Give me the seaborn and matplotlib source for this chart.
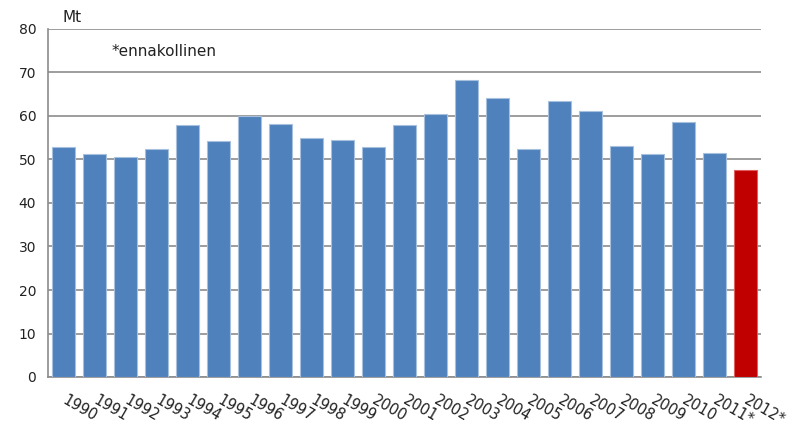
import numpy as np
import pandas as pd
import matplotlib
matplotlib.use("Agg")
import matplotlib.pyplot as plt
import seaborn as sns

# Data
vuodet = [str(y) for y in range(1990, 2011)] + ["2011*", "2012*"]
arvot = [52.8, 51.3, 50.6, 52.4, 57.9, 54.2, 60.0, 58.2, 55.0, 54.5, 52.8,
         57.9, 60.4, 68.2, 64.1, 52.4, 63.4, 61.2, 53.1, 51.2, 58.6, 51.6, 47.5]
tyyppi = ["toteutunut"] * 22 + ["ennakko"]

df = pd.DataFrame({"vuosi": vuodet, "arvo": arvot, "tyyppi": tyyppi})

sns.set_style("white")
plt.rcParams["font.family"] = ["DejaVu Sans"]

fig = plt.figure(figsize=(7.92, 4.28), dpi=100)
ax = fig.add_axes([48 / 792, 1 - 377 / 428, 713 / 792, 348 / 428])

sns.barplot(data=df, x="vuosi", y="arvo", hue="tyyppi",
            palette={"toteutunut": "#4F81BD", "ennakko": "#C00000"},
            saturation=1, width=0.72, dodge=False, legend=False, ax=ax,
            edgecolor="#A7C0DE", linewidth=0.8, zorder=3)
# punaisen pylvään reuna
for p in ax.patches:
    if p.get_facecolor()[0] > 0.6:
        p.set_edgecolor("#E06060")

ax.set_ylim(0, 80)
ax.set_xlim(-0.5, len(vuodet) - 0.5)
ax.set_yticks(range(0, 81, 10))
ax.yaxis.grid(True, color="#8C8C8C", linewidth=1.2, zorder=0)
ax.set_axisbelow(True)

# x-akselin merkit luokkien rajoille
ax.set_xticks(np.arange(len(vuodet)))
ax.set_xticks(np.arange(-0.5, len(vuodet), 1), minor=True)
ax.tick_params(axis="x", which="major", length=0, pad=16)
ax.tick_params(axis="x", which="minor", length=5, color="#8C8C8C", width=1)
ax.tick_params(axis="y", length=5, color="#8C8C8C", width=1, labelsize=10)
ax.set_xticklabels(vuodet, rotation=-30, ha="left", va="center",
                   rotation_mode="anchor", fontsize=10.5, color="#222222")
for lab in ax.get_yticklabels():
    lab.set_color("#222222")

for s in ["top", "right"]:
    ax.spines[s].set_visible(False)
for s in ["left", "bottom"]:
    ax.spines[s].set_color("#8C8C8C")
    ax.spines[s].set_linewidth(1.2)

ax.set_xlabel("")
ax.set_ylabel("")
fig.text(62 / 792, 1 - 17 / 428, "Mt", fontsize=11, va="center", color="#222222")
fig.text(112 / 792, 1 - 52 / 428, "*ennakollinen", fontsize=11, va="center",
         color="#222222")

fig.savefig("out.png", dpi=100)
